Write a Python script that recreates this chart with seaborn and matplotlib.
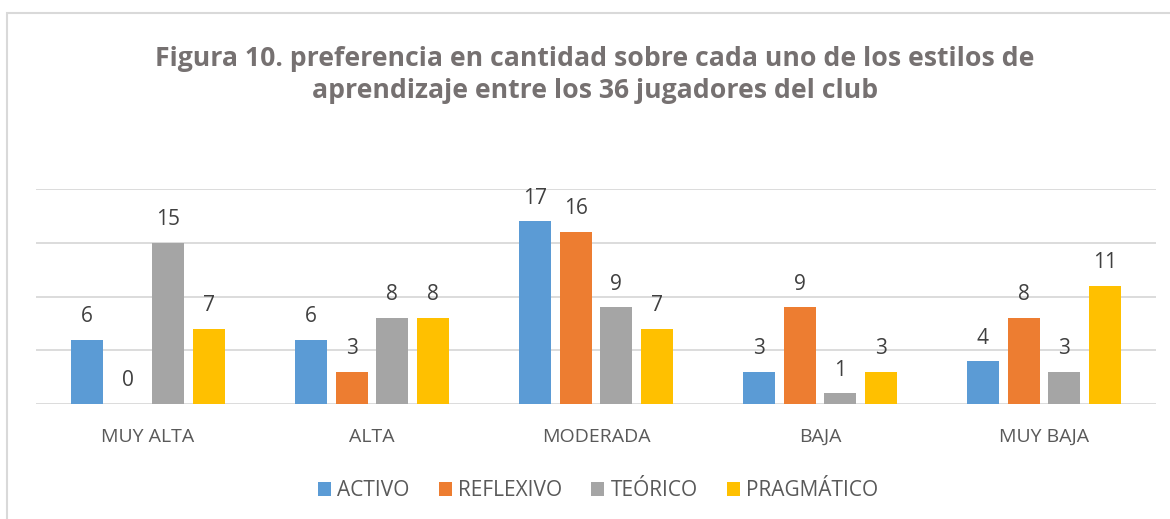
import matplotlib
matplotlib.use("Agg")
import matplotlib.pyplot as plt
import seaborn as sns
import pandas as pd
from matplotlib.patches import Rectangle, Patch

categories = ["MUY ALTA", "ALTA", "MODERADA", "BAJA", "MUY BAJA"]
series = ["ACTIVO", "REFLEXIVO", "TEÓRICO", "PRAGMÁTICO"]
activo = [6, 6, 17, 3, 4]
reflexivo = [0, 3, 16, 9, 8]
teorico = [15, 8, 9, 1, 3]
pragmatico = [7, 8, 7, 3, 11]
colors = ["#5B9BD5", "#ED7D31", "#A5A5A5", "#FFC000"]
title = ("Figura 10. preferencia en cantidad sobre cada uno de los estilos de\n"
         "aprendizaje entre los 36 jugadores del club")

values = [activo, reflexivo, teorico, pragmatico]
rows = []
for s, vals in zip(series, values):
    for c, v in zip(categories, vals):
        rows.append({"cat": c, "serie": s, "valor": v})
df = pd.DataFrame(rows)

sns.set_theme(style="white")
plt.rcParams["font.family"] = ["Open Sans", "DejaVu Sans"]

fig = plt.figure(figsize=(11.7, 5.19), dpi=100)
ax = fig.add_axes([36/1170, 1 - 404/519, (1156-36)/1170, (404-189)/519])

sns.barplot(data=df, x="cat", y="valor", hue="serie", order=categories,
            hue_order=series, palette=colors, width=0.727, gap=0.21,
            saturation=1, ax=ax, legend=False, linewidth=0)

ax.set_ylim(0, 20)
ax.set_yticks([0, 5, 10, 15, 20])
ax.yaxis.grid(True, color="#D9D9D9", linewidth=1.3)
ax.set_axisbelow(True)
ax.tick_params(axis="y", left=False, labelleft=False)
ax.tick_params(axis="x", bottom=False, labelsize=14, labelcolor="#595959", pad=11)
for sp in ax.spines.values():
    sp.set_visible(False)
ax.set_xlabel("")
ax.set_ylabel("")
ax.set_xlim(-0.5, 4.5)

for cont in ax.containers:
    ax.bar_label(cont, fmt="%d", padding=9, fontsize=15, color="#404040")

fig.text(595/1170, 1 - 75/519, title, ha="center", va="center",
         fontsize=19.2, fontweight="bold", color="#767171", linespacing=1.35)

handles = [Patch(facecolor=c, edgecolor="none") for c in colors]
fig.legend(handles, series, loc="center", bbox_to_anchor=(598/1170, 1 - 491/519),
           ncol=4, frameon=False, fontsize=15, labelcolor="#595959",
           handlelength=0.63, handleheight=0.63, handletextpad=0.3, columnspacing=1.4)

fig.patches.append(Rectangle((7/1170, -0.1), 1.2, 1 - 13/519 + 0.1,
                             transform=fig.transFigure, fill=False,
                             edgecolor="#D9D9D9", linewidth=1.5))

fig.savefig("out.png", dpi=100)
